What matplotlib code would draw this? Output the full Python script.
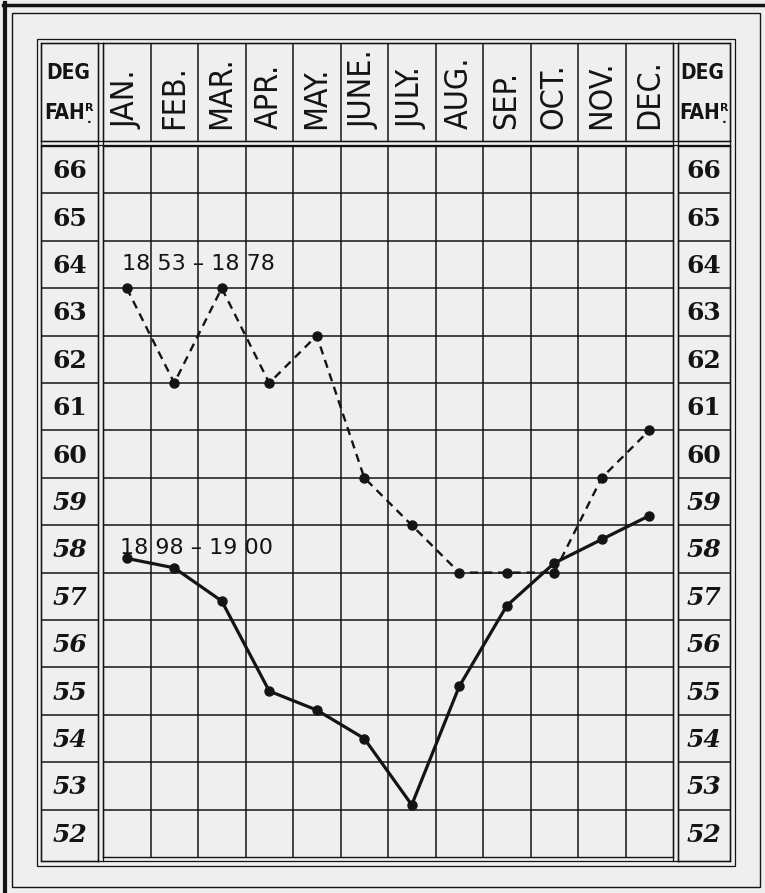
import matplotlib
matplotlib.use('Agg')
import matplotlib.pyplot as plt
from matplotlib.patches import Rectangle

# chart values
months = ['JAN.', 'FEB.', 'MAR.', 'APR.', 'MAY.', 'JUNE.', 'JULY.',
          'AUG.', 'SEP.', 'OCT.', 'NOV.', 'DEC.']
temps_1853_1878 = [64, 62, 64, 62, 63, 60, 59, 58, 58, 58, 60, 61]
temps_1898_1900 = [58.3, 58.1, 57.4, 55.5, 55.1, 54.5, 53.1, 55.6, 57.3, 58.2, 58.7, 59.2]
degrees = list(range(52, 67))
label_1853 = '18 53 \u2013 18 78'
label_1898 = '18 98 \u2013 19 00'

W, H = 765, 893
paper = '#efefef'
ink = '#141414'
sans_narrow = ['Liberation Sans Narrow', 'DejaVu Sans']

fig = plt.figure(figsize=(W / 100, H / 100), dpi=100)
fig.patch.set_facecolor(paper)


def px_axes(x0, y0, x1, y1, **kw):
    # box given in pixels, measured from the top left corner
    return fig.add_axes([x0 / W, 1 - y1 / H, (x1 - x0) / W, (y1 - y0) / H], **kw)


# frames around everything
frame = px_axes(0, 0, W, H)
frame.set_xlim(0, W)
frame.set_ylim(H, 0)
frame.axis('off')
frame.plot([5, 5], [3, H], color=ink, lw=3)
frame.plot([3, W], [5, 5], color=ink, lw=2.5)
frame.add_patch(Rectangle((12, 13), 748, 874, fill=False, ec=ink, lw=1))
frame.add_patch(Rectangle((37, 39), 698, 827, fill=False, ec=ink, lw=0.9))
frame.add_patch(Rectangle((41, 43), 689, 818, fill=False, ec=ink, lw=0.9))
for x in [98, 103, 673, 678]:
    frame.plot([x, x], [43, 861], color=ink, lw=0.9)
for y in [141, 145]:
    frame.plot([41, 730], [y, y], color=ink, lw=0.9)


def style_box(ax):
    ax.set_facecolor('none')
    ax.set_xticks([])
    ax.set_yticks([])
    for s in ax.spines.values():
        s.set_color(ink)
        s.set_linewidth(1)


# month header
head = px_axes(103, 43, 673, 141)
style_box(head)
head.set_xlim(0.5, 12.5)
head.set_ylim(0, 1)
for i in range(1, 12):
    head.axvline(i + 0.5, color=ink, lw=1.1)
for i, m in enumerate(months, start=1):
    head.text(i, 0.12, m, rotation=90, ha='center', va='bottom',
              fontsize=23, family=sans_narrow, fontstretch='condensed', color=ink)

# DEG FAHR headers on both sides
for box in [(41, 43, 98, 141), (678, 43, 730, 141)]:
    hax = px_axes(*box)
    style_box(hax)
    hax.set_xlim(0, 1)
    hax.set_ylim(0, 1)
    hax.text(0.47, 0.69, 'DEG', ha='center', va='center', fontsize=15,
             weight='bold', family=sans_narrow, fontstretch='condensed', color=ink)
    fah = hax.text(0.42, 0.29, 'FAH', ha='center', va='center', fontsize=15,
                   weight='bold', family=sans_narrow, fontstretch='condensed', color=ink)
    sup = hax.annotate('R', xy=(1, 1), xycoords=fah, ha='left', va='top',
                       fontsize=8, weight='bold', family=sans_narrow, color=ink)
    hax.annotate('.', xy=(0.5, 0), xycoords=sup, ha='center', va='top',
                 fontsize=9, weight='bold', color=ink)

# degree columns on both sides
for box in [(41, 146, 98, 861), (678, 146, 730, 861)]:
    lax = px_axes(*box)
    style_box(lax)
    lax.set_xlim(0, 1)
    lax.set_ylim(52 - 4 / 47.3, 67)
    for d in degrees[1:]:
        lax.axhline(d, color=ink, lw=1.1)
    for d in degrees:
        lax.text(0.5, d + 0.47, str(d), ha='center', va='center', fontsize=18,
                 family='DejaVu Serif', weight='bold',
                 style='italic' if d < 60 else 'normal', color=ink)

# plotting grid
ax = px_axes(103, 146, 673, 857)
style_box(ax)
ax.set_xlim(0.5, 12.5)
ax.set_ylim(52, 67)
for i in range(1, 12):
    ax.axvline(i + 0.5, color=ink, lw=1.1, zorder=1)
for d in degrees[1:]:
    ax.axhline(d, color=ink, lw=1.1, zorder=1)

x = list(range(1, 13))
ax.plot(x, temps_1853_1878, color=ink, lw=1.7, dashes=(3.5, 2.5),
        marker='o', ms=6.5, mfc=ink, mec=ink, zorder=3)
ax.plot(x, temps_1898_1900, color=ink, lw=2.3, ls='-',
        marker='o', ms=6.5, mfc=ink, mec=ink, zorder=3)

ax.text(0.9, 64.3, label_1853, ha='left', va='bottom', fontsize=16,
        family='DejaVu Sans', color=ink, zorder=4)
ax.text(0.85, 58.3, label_1898, ha='left', va='bottom', fontsize=16,
        family='DejaVu Sans', color=ink, zorder=4)

fig.savefig('out.png', dpi=100, facecolor=paper)
